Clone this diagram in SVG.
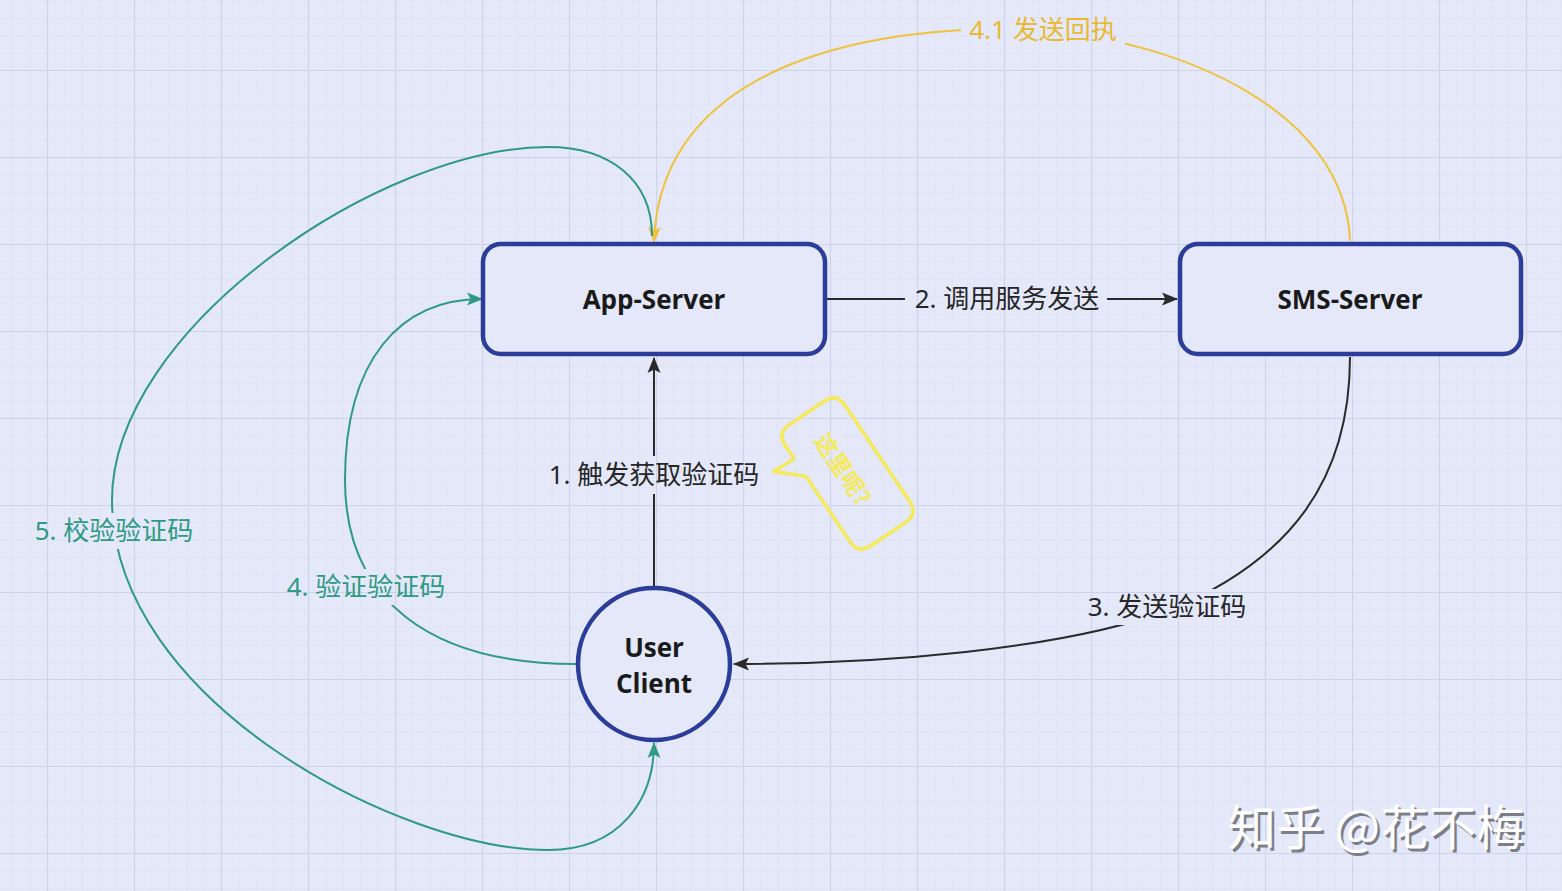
<svg xmlns="http://www.w3.org/2000/svg" width="1562" height="891" viewBox="0 0 1562 891">
<defs>
<style>
.node{fill:#e4e8f8;stroke:#2b3d99;stroke-width:4.5}
.nl{font-family:"Open Sans","Noto Sans",sans-serif;font-weight:700;font-size:26px;fill:#1a1a1a;text-anchor:middle}
.el{font-family:"Noto Sans","Noto Sans CJK SC",sans-serif;font-size:26px;text-anchor:middle;dominant-baseline:central}
.blk{fill:none;stroke:#2a2a2a;stroke-width:2}
.tl{fill:none;stroke:#2e9a84;stroke-width:2}
.yl{fill:none;stroke:#f0c23c;stroke-width:2}
.note{font-family:"Noto Sans CJK SC","Noto Sans",sans-serif;font-size:23px;font-weight:700;fill:#f5e95c;text-anchor:middle;dominant-baseline:central}
.wm{font-family:"Noto Sans CJK SC",sans-serif;font-size:48px}
</style>
<pattern id="minor" width="17.4" height="17.4" patternUnits="userSpaceOnUse" x="47" y="70">
<path d="M0 0H17.4M0 0V17.4" stroke="#dde2f4" stroke-width="1" fill="none"/>
</pattern>
<pattern id="major" width="87" height="87" patternUnits="userSpaceOnUse" x="47" y="70">
<path d="M0 0.5H87M0.5 0V87" stroke="#cdd3ea" stroke-width="1.2" fill="none"/>
</pattern>
<marker id="ab" viewBox="0 0 16 16" refX="15" refY="8" markerWidth="16" markerHeight="16" markerUnits="userSpaceOnUse" orient="auto">
<path d="M0 1.5 L16 8 L0 14.5 L3.5 8 z" fill="#2a2a2a"/>
</marker>
<marker id="at" viewBox="0 0 16 16" refX="15" refY="8" markerWidth="16" markerHeight="16" markerUnits="userSpaceOnUse" orient="auto">
<path d="M0 1.5 L16 8 L0 14.5 L3.5 8 z" fill="#2e9a84"/>
</marker>
<marker id="ay" viewBox="0 0 16 16" refX="15" refY="8" markerWidth="16" markerHeight="16" markerUnits="userSpaceOnUse" orient="auto">
<path d="M0 1.5 L16 8 L0 14.5 L3.5 8 z" fill="#f0c23c"/>
</marker>
<mask id="lblmask" maskUnits="userSpaceOnUse" x="0" y="0" width="1562" height="891">
<rect x="0" y="0" width="1562" height="891" fill="#fff"/>
<rect x="541" y="456" width="226" height="38" fill="#000"/>
<rect x="905" y="282" width="202" height="34" fill="#000"/>
<rect x="1080" y="589" width="174" height="36" fill="#000"/>
<rect x="280" y="569" width="172" height="36" fill="#000"/>
<rect x="28" y="513" width="172" height="36" fill="#000"/>
<rect x="961" y="12" width="164" height="36" fill="#000"/>
</mask>
</defs>
<rect width="1562" height="891" fill="#e4e8f8"/>
<rect width="1562" height="891" fill="url(#minor)"/>
<rect width="1562" height="891" fill="url(#major)"/>

<g id="connectors">
<g mask="url(#lblmask)">
<path id="e1" class="blk" d="M654 587 L654 358" marker-end="url(#ab)"/>
<path id="e2" class="blk" d="M827 299 L1177 299" marker-end="url(#ab)"/>
<path id="e3" class="blk" d="M1350 357 C1350 480 1290 560 1170 610 C1060 650 880 664 734 664" marker-end="url(#ab)"/>
<path id="e41" class="yl" d="M1350 241 C1345 110 1180 42 1043 30 C880 22 660 60 654 242" marker-end="url(#ay)"/>
<path id="e4" class="tl" d="M576 664 C430 664 345 600 345 480 C345 360 400 299 482 299" marker-end="url(#at)"/>
<path id="e5" class="tl" d="M652 236 C652 180 610 147 548 147 C380 147 112 330 112 500 C112 700 400 850 548 850 C620 850 654 800 654 743" marker-end="url(#at)"/>
</g>
<text class="el" x="654" y="474" fill="#262626">1. 触发获取验证码</text>
<text class="el" x="1007" y="298" fill="#262626">2. 调用服务发送</text>
<text class="el" x="1167" y="606" fill="#262626">3. 发送验证码</text>
<text class="el" x="366" y="586" fill="#2e9a84">4. 验证验证码</text>
<text class="el" x="114" y="530" fill="#2e9a84">5. 校验验证码</text>
<text class="el" x="1043" y="29" fill="#eab833">4.1 发送回执</text>
</g>

<g id="app-server">
<rect class="node" x="483" y="244" width="342" height="110" rx="18"/>
<text class="nl" x="654" y="309">App-Server</text>
</g>
<g id="sms-server">
<rect class="node" x="1180" y="244" width="341" height="110" rx="18"/>
<text class="nl" x="1350" y="309">SMS-Server</text>
</g>
<g id="user-client">
<circle class="node" cx="654" cy="664" r="76"/>
<text class="nl" x="654" y="657">User</text>
<text class="nl" x="654" y="693">Client</text>
</g>

<g id="note" transform="translate(847.5 473.5) rotate(56)">
<path d="M-58 -36 H58 Q73 -36 73 -21 V21 Q73 36 58 36 H-21 L-43 60 L-42 36 H-58 Q-73 36 -73 21 V-21 Q-73 -36 -58 -36 Z" fill="none" stroke="#f5e95c" stroke-width="3.5" stroke-linejoin="round"/>
<text class="note" x="-6" y="0">这里呢?</text>
</g>

<g id="watermark" class="wm">
<text x="1228" y="845" fill="#7d7f88" transform="translate(2.5 2.5)">知乎 @花不梅</text>
<text x="1228" y="845" fill="#ffffff">知乎 @花不梅</text>
</g>
</svg>
